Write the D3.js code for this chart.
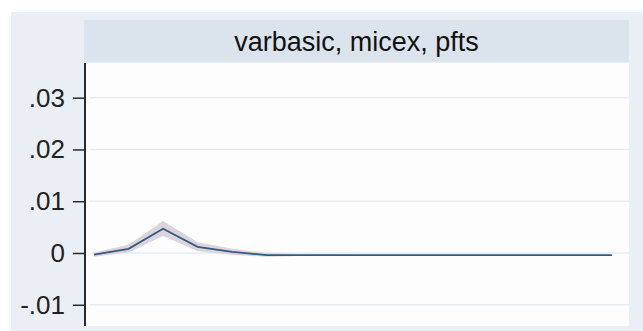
<!DOCTYPE html>
<html>
<head>
<meta charset="utf-8">
<script src="https://cdn.jsdelivr.net/npm/d3@7/dist/d3.min.js"></script>
<style>
  html, body { margin: 0; padding: 0; background: #ffffff; }
  svg { display: block; }
  text { font-family: "Liberation Sans", Arial, sans-serif; }
</style>
</head>
<body>
<svg id="chart" width="643" height="331"></svg>
<script>
// Impulse response: varbasic, impulse micex, response pfts
const panelTitle = "varbasic, micex, pfts";
const steps = [0, 1, 2, 3, 4, 5, 6, 7, 8, 9, 10, 11, 12, 13, 14, 15];
const irf   = [-0.0003, 0.0008, 0.0047, 0.0012, 0.0002, -0.0004, -0.0004, -0.0004,
               -0.0004, -0.0004, -0.0004, -0.0004, -0.0004, -0.0004, -0.0004, -0.0004];
const ciLower = [-0.0007, 0.0001, 0.0033, 0.0004, -0.0004, -0.0007, -0.0006, -0.0005,
                 -0.0004, -0.0004, -0.0004, -0.0004, -0.0004, -0.0004, -0.0004, -0.0004];
const ciUpper = [0.0001, 0.0016, 0.0062, 0.0021, 0.0008, 0.0000, -0.0002, -0.0003,
                 -0.0004, -0.0004, -0.0004, -0.0004, -0.0004, -0.0004, -0.0004, -0.0004];
const yTicks = [-0.01, 0, 0.01, 0.02, 0.03];
const yTickLabels = ["-.01", "0", ".01", ".02", ".03"];

const svg = d3.select("#chart");

// graph region and panel layout
const outer = { x: 11, y: 12, w: 632, h: 319 };
const strip = { x: 84, y: 20, w: 545, h: 42 };
const plot  = { left: 86, right: 629, top: 63, bottom: 326 };

const x = d3.scaleLinear().domain([0, 15]).range([94, 612]);
const y = d3.scaleLinear().domain([-0.0141, 0.0367]).range([plot.bottom, plot.top]);

svg.append("rect")
  .attr("x", outer.x).attr("y", outer.y)
  .attr("width", outer.w).attr("height", outer.h)
  .attr("fill", "#eaeff5");

// title strip
svg.append("rect")
  .attr("x", strip.x).attr("y", strip.y)
  .attr("width", strip.w).attr("height", strip.h)
  .attr("fill", "#dbe3ec");
svg.append("text")
  .attr("x", strip.x + strip.w / 2)
  .attr("y", strip.y + strip.h / 2 + 1)
  .attr("text-anchor", "middle")
  .attr("dominant-baseline", "central")
  .attr("font-size", 27)
  .attr("fill", "#111")
  .text(panelTitle);

// plot region
svg.append("rect")
  .attr("x", plot.left).attr("y", plot.top)
  .attr("width", plot.right - plot.left).attr("height", plot.bottom - plot.top)
  .attr("fill", "#fdfdfe");

// horizontal grid
svg.append("g")
  .selectAll("line")
  .data(yTicks)
  .join("line")
  .attr("x1", plot.left + 4).attr("x2", plot.right)
  .attr("y1", d => y(d)).attr("y2", d => y(d))
  .attr("stroke", "#e6edf4")
  .attr("stroke-width", 1.5);

// confidence band
const area = d3.area()
  .x((d, i) => x(steps[i]))
  .y0((d, i) => y(ciLower[i]))
  .y1((d, i) => y(ciUpper[i]));
svg.append("path")
  .datum(steps)
  .attr("d", area)
  .attr("fill", "#ddd4db");

// response line
const line = d3.line()
  .x((d, i) => x(steps[i]))
  .y((d, i) => y(irf[i]));
svg.append("path")
  .datum(steps)
  .attr("d", line)
  .attr("fill", "none")
  .attr("stroke", "#2f5b84")
  .attr("stroke-width", 1.8);

// y axis
const yAxis = d3.axisLeft(y)
  .tickValues(yTicks)
  .tickFormat((d, i) => yTickLabels[i])
  .tickSize(12)
  .tickPadding(8);
const gy = svg.append("g")
  .attr("transform", `translate(${plot.left - 1},0)`)
  .call(yAxis);
gy.select(".domain").remove();
gy.append("line")
  .attr("x1", 0).attr("x2", 0)
  .attr("y1", plot.top).attr("y2", plot.bottom)
  .attr("stroke", "#2a2a2a")
  .attr("stroke-width", 2);
gy.selectAll(".tick line").attr("stroke", "#2a2a2a").attr("stroke-width", 1.5);
gy.selectAll(".tick text")
  .attr("font-family", "'Liberation Sans', Arial, sans-serif")
  .attr("font-size", 26)
  .attr("fill", "#222");
</script>
</body>
</html>
